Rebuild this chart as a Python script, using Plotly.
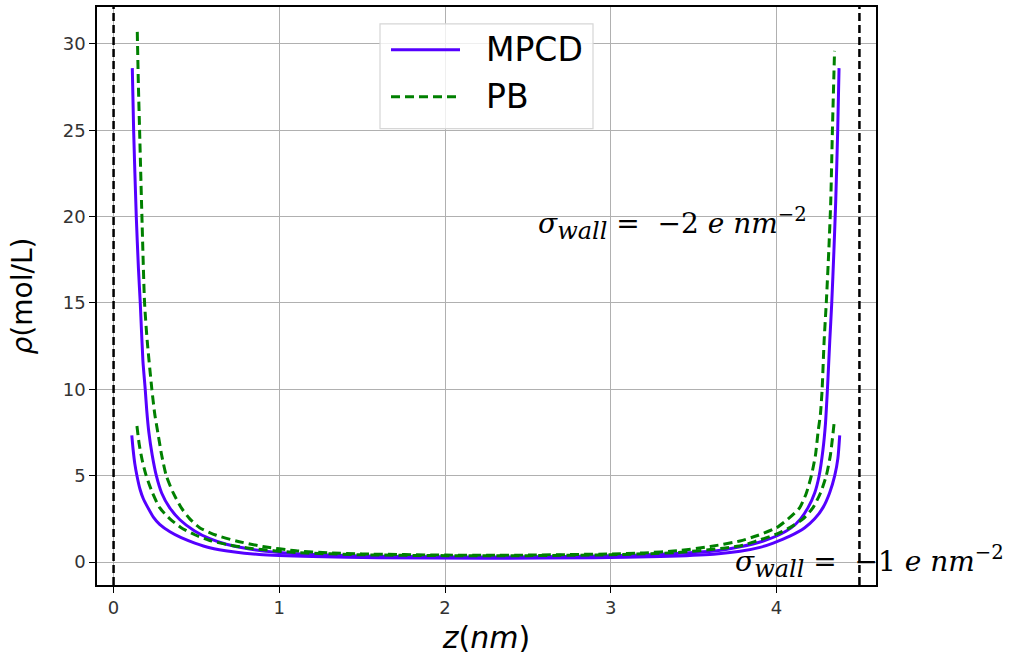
import plotly.graph_objects as go

# ---- data ----
z_mpcd_hi = [0.113, 0.121, 0.137, 0.150, 0.161, 0.177, 0.191, 0.200, 0.213, 0.233, 0.258, 0.29, 0.338, 0.40, 0.489, 0.58, 0.68, 0.82, 1.0, 1.2, 1.5, 2.0, 2.25,
             2.5, 3.0, 3.3, 3.5, 3.64, 3.78, 3.92, 4.01, 4.09, 4.145, 4.19, 4.23, 4.257, 4.28, 4.295, 4.307, 4.321, 4.333, 4.346, 4.357, 4.369, 4.377]
rho_mpcd_hi = [28.6, 25.0, 20.0, 17.0, 15.0, 11.65, 10.0, 8.8, 7.5, 6.2, 5.0, 4.0, 3.15, 2.45, 1.8, 1.35, 1.03, 0.75, 0.55, 0.44, 0.35, 0.30, 0.29,
               0.30, 0.36, 0.45, 0.55, 0.65, 0.88, 1.22, 1.55, 1.99, 2.5, 3.15, 4.0, 5.0, 6.5, 8.0, 10.0, 12.8, 15.0, 18.0, 20.9, 25.0, 28.6]

z_mpcd_lo = [0.11, 0.118, 0.128, 0.141, 0.16, 0.18, 0.207, 0.24, 0.278, 0.34, 0.408, 0.49, 0.58, 0.72, 0.88, 1.2, 1.6, 2.25,
             2.9, 3.3, 3.62, 3.78, 3.9, 3.98, 4.08, 4.17, 4.23, 4.28, 4.32, 4.351, 4.37, 4.381]
rho_mpcd_lo = [7.34, 6.5, 5.7, 5.0, 4.2, 3.65, 3.15, 2.6, 2.18, 1.75, 1.41, 1.1, 0.83, 0.6, 0.44, 0.32, 0.25, 0.22,
               0.25, 0.32, 0.45, 0.62, 0.85, 1.1, 1.5, 1.99, 2.5, 3.15, 4.0, 5.0, 6.0, 7.34]

z_pb_hi = [0.143, 0.150, 0.157, 0.171, 0.187, 0.203, 0.231, 0.248, 0.267, 0.29, 0.318, 0.36, 0.408, 0.46, 0.519, 0.62, 0.74, 0.9, 1.1, 1.3, 1.5, 2.0, 2.25,
           2.5, 3.0, 3.2, 3.4, 3.6, 3.78, 3.89, 4.0, 4.07, 4.14, 4.18, 4.21, 4.235, 4.25, 4.265, 4.275, 4.287, 4.30, 4.315, 4.327, 4.337, 4.35]
rho_pb_hi = [30.7, 27.5, 25.0, 20.0, 15.0, 12.8, 10.0, 8.6, 7.5, 6.2, 5.0, 4.0, 3.15, 2.5, 1.99, 1.55, 1.22, 0.9, 0.65, 0.53, 0.47, 0.40, 0.39,
             0.40, 0.47, 0.53, 0.65, 0.9, 1.22, 1.55, 1.99, 2.5, 3.15, 4.0, 5.0, 6.2, 7.5, 8.6, 10.0, 12.8, 15.0, 18.0, 20.9, 25.0, 29.6]

z_pb_lo = [0.141, 0.155, 0.175, 0.197, 0.235, 0.278, 0.34, 0.408, 0.49, 0.58, 0.7, 0.82, 1.1, 1.5, 2.0, 2.25,
           2.5, 3.0, 3.4, 3.68, 3.8, 3.88, 3.99, 4.08, 4.16, 4.22, 4.265, 4.30, 4.325, 4.347]
rho_pb_lo = [7.88, 6.8, 5.8, 5.0, 4.0, 3.15, 2.5, 1.99, 1.58, 1.25, 0.98, 0.8, 0.55, 0.42, 0.37, 0.36,
             0.37, 0.42, 0.55, 0.8, 0.98, 1.22, 1.58, 1.99, 2.5, 3.15, 4.0, 5.0, 6.2, 8.02]

wall_positions = [0.0, 4.5]
x_ticks = [0, 1, 2, 3, 4]
y_ticks = [0, 5, 10, 15, 20, 25, 30]
legend_labels = ["MPCD", "PB"]

BLUE = "#5500ff"
GREEN = "#008000"
DASH = "9px,5px"
LW = 3

# plot-area pixel frame (for placing the hand-drawn legend)
PL, PR, PT, PBOT = 97, 876, 5, 585
def px(x):
    return (x - PL) / (PR - PL)
def py(y):
    return (PBOT - y) / (PBOT - PT)

fig = go.Figure()
series = [
    (z_mpcd_hi, rho_mpcd_hi, BLUE, None, legend_labels[0]),
    (z_pb_hi, rho_pb_hi, GREEN, DASH, legend_labels[1]),
    (z_mpcd_lo, rho_mpcd_lo, BLUE, None, legend_labels[0]),
    (z_pb_lo, rho_pb_lo, GREEN, DASH, legend_labels[1]),
]
for zs, rs, col, dash, name in series:
    line = dict(color=col, width=LW, shape="spline", smoothing=0.6)
    if dash:
        line["dash"] = dash
    fig.add_trace(go.Scatter(x=zs, y=rs, mode="lines", name=name, showlegend=False, line=line))

for xw in wall_positions:
    fig.add_shape(type="line", xref="x", yref="paper", x0=xw, x1=xw, y0=0, y1=1,
                  line=dict(color="black", width=2.5, dash="8px,4px"))

# legend box drawn by hand (longer sample lines as in the reference)
fig.add_shape(type="rect", xref="paper", yref="paper", x0=px(380), x1=px(593), y0=py(127), y1=py(22),
              line=dict(color="#d6d6d6", width=1.2), fillcolor="rgba(255,255,255,0.8)", layer="above")
fig.add_shape(type="line", xref="paper", yref="paper", x0=px(391), x1=px(460), y0=py(48), y1=py(48),
              line=dict(color=BLUE, width=LW), layer="above")
fig.add_shape(type="line", xref="paper", yref="paper", x0=px(391), x1=px(460), y0=py(95), y1=py(95),
              line=dict(color=GREEN, width=LW, dash=DASH), layer="above")
for lab, yy in zip(legend_labels, [48, 95]):
    fig.add_annotation(x=px(484), y=py(yy), xref="paper", yref="paper", xanchor="left", yanchor="middle",
                       text=lab, showarrow=False,
                       font=dict(family="DejaVu Sans", size=33, color="black"))

NB = "\u00a0"
ann_font = dict(family="DejaVu Serif", size=28, color="black")
sub = '<sub><span style="font-size:24px"><i>wall</i></span></sub>'
txt2 = f"<i>σ</i>{sub}{NB}={NB}{NB}−2{NB}<i>e</i>{NB}<i>nm</i><sup>−2</sup>"
txt1 = f"<i>σ</i>{sub}{NB}={NB}{NB}−1{NB}<i>e</i>{NB}<i>nm</i><sup>−2</sup>"
fig.add_annotation(x=2.55, y=19.6, xref="x", yref="y", xanchor="left", yanchor="middle",
                   text=txt2, showarrow=False, font=ann_font)
fig.add_annotation(x=3.74, y=0.0, xref="x", yref="y", xanchor="left", yanchor="middle",
                   text=txt1, showarrow=False, font=ann_font)

fig.update_layout(
    width=1012, height=667,
    margin=dict(l=PL, r=1012 - PR, t=PT, b=667 - PBOT),
    plot_bgcolor="white", paper_bgcolor="white",
    font=dict(family="DejaVu Sans", size=18, color="#333"),
    showlegend=False,
)
fig.update_xaxes(range=[-0.1, 4.6], tickvals=x_ticks, showgrid=True, gridcolor="#b0b0b0", gridwidth=1,
                 showline=True, linecolor="black", linewidth=1.5, mirror=True,
                 ticks="outside", ticklen=6, tickcolor="black", zeroline=False,
                 title=dict(text="<i>z</i>(<i>nm</i>)", font=dict(size=30, color="black"), standoff=10))
fig.update_yaxes(range=[-1.33, 32.14], tickvals=y_ticks, showgrid=True, gridcolor="#b0b0b0", gridwidth=1,
                 showline=True, linecolor="black", linewidth=1.5, mirror=True,
                 ticks="outside", ticklen=6, tickcolor="black", zeroline=False,
                 title=dict(text="<i>ρ</i>(mol/L)", font=dict(size=28, color="black"), standoff=22))

fig.write_html("out.html")
